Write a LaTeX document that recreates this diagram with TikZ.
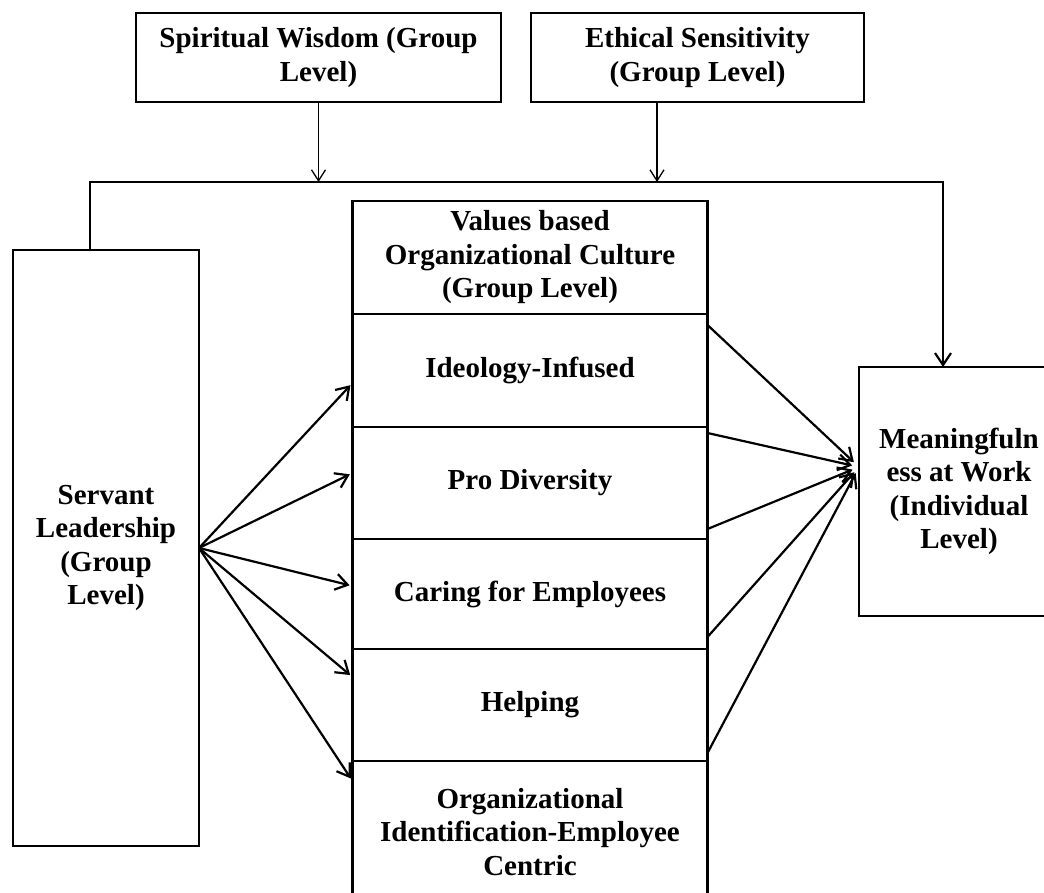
\documentclass[tikz,border=0pt]{standalone}
\usepackage{fontspec}
\setmainfont{Liberation Serif}
\usepackage{tikz}
\usetikzlibrary{arrows.meta,positioning}

\begin{document}
\begin{tikzpicture}[
    x=1pt, y=-1pt,
    box/.style={rectangle, draw, line width=2.3pt, outer sep=0pt, inner sep=4pt, align=center, font=\bfseries\fontsize{29}{33.5}\selectfont},
    part/.style={box, minimum width=355pt},
    arrow/.style={-{Straight Barb[length=12pt,width=16pt]}, line width=2.2pt},
    thinarrow/.style={-{Straight Barb[length=11pt,width=14pt]}, line width=1.3pt}
]
\useasboundingbox (0,0) rectangle (1044,893);

% Moderators
\node[box, minimum width=365pt, minimum height=89pt] (wisdom) at (318.5,57.5) {Spiritual Wisdom (Group\\Level)};
\node[box, minimum width=333pt, minimum height=89pt] (ethic) at (697.5,57.5) {Ethical Sensitivity\\(Group Level)};

% Predictor and outcome
\node[box, minimum width=186pt, minimum height=596pt] (servant) at (106,548) {Servant\\Leadership\\(Group\\Level)};
\node[box, minimum width=200pt, minimum height=249pt] (meaning) at (959,491.5) {Meaningfuln\\ess at Work\\(Individual\\Level)};

% Culture stack
\node[part, minimum height=113pt] (values) at (530,257.5) {Values based\\Organizational Culture\\(Group Level)};
\node[part, minimum height=113pt, below=0pt of values] (ideology) {Ideology-Infused};
\node[part, minimum height=112pt, below=0pt of ideology] (prodiv) {Pro Diversity};
\node[part, minimum height=110pt, below=0pt of prodiv] (caring) {Caring for Employees};
\node[part, minimum height=112pt, below=0pt of caring] (helping) {Helping};
\node[part, minimum height=142pt, below=0pt of helping] (orgid) {Organizational\\Identification-Employee\\Centric};

% Moderation line
\coordinate (busL) at (90,182);
\coordinate (busR) at (943,182);
\coordinate (hub) at ([yshift=24.5pt]meaning.west);
\draw[arrow] (busL |- servant.north) -- (busL) -- (busR) -- (busR |- meaning.north);
\draw[thinarrow] (wisdom.south) -- (wisdom.south |- busL);
\draw[thinarrow] ([xshift=-40.5pt]ethic.south) -- ([xshift=-40.5pt]ethic.south |- busL);

% Servant leadership to culture
\draw[arrow, shorten >=3pt] (servant.east) -- ([yshift=-12.5pt]ideology.west);
\draw[arrow, shorten >=3pt] (servant.east) -- ([yshift=10pt]prodiv.west);
\draw[arrow, shorten >=3pt] (servant.east) -- ([yshift=8pt]caring.west);
\draw[arrow, shorten >=3pt] (servant.east) -- ([yshift=28pt]helping.west);
\draw[arrow, shorten >=3pt] (servant.east) -- ([yshift=-20pt]orgid.north west);

% Culture to meaningfulness
\draw[arrow, shorten >=7pt] ([yshift=-11pt]ideology.north east) -- (hub);
\draw[arrow, shorten >=7pt] ([yshift=-6pt]prodiv.north east) -- (hub);
\draw[arrow, shorten >=7pt] ([yshift=10pt]prodiv.south east) -- (hub);
\draw[arrow, shorten >=7pt] ([yshift=12pt]caring.south east) -- (hub);
\draw[arrow, shorten >=7pt] ([yshift=8pt]helping.south east) -- (hub);

\end{tikzpicture}
\end{document}
